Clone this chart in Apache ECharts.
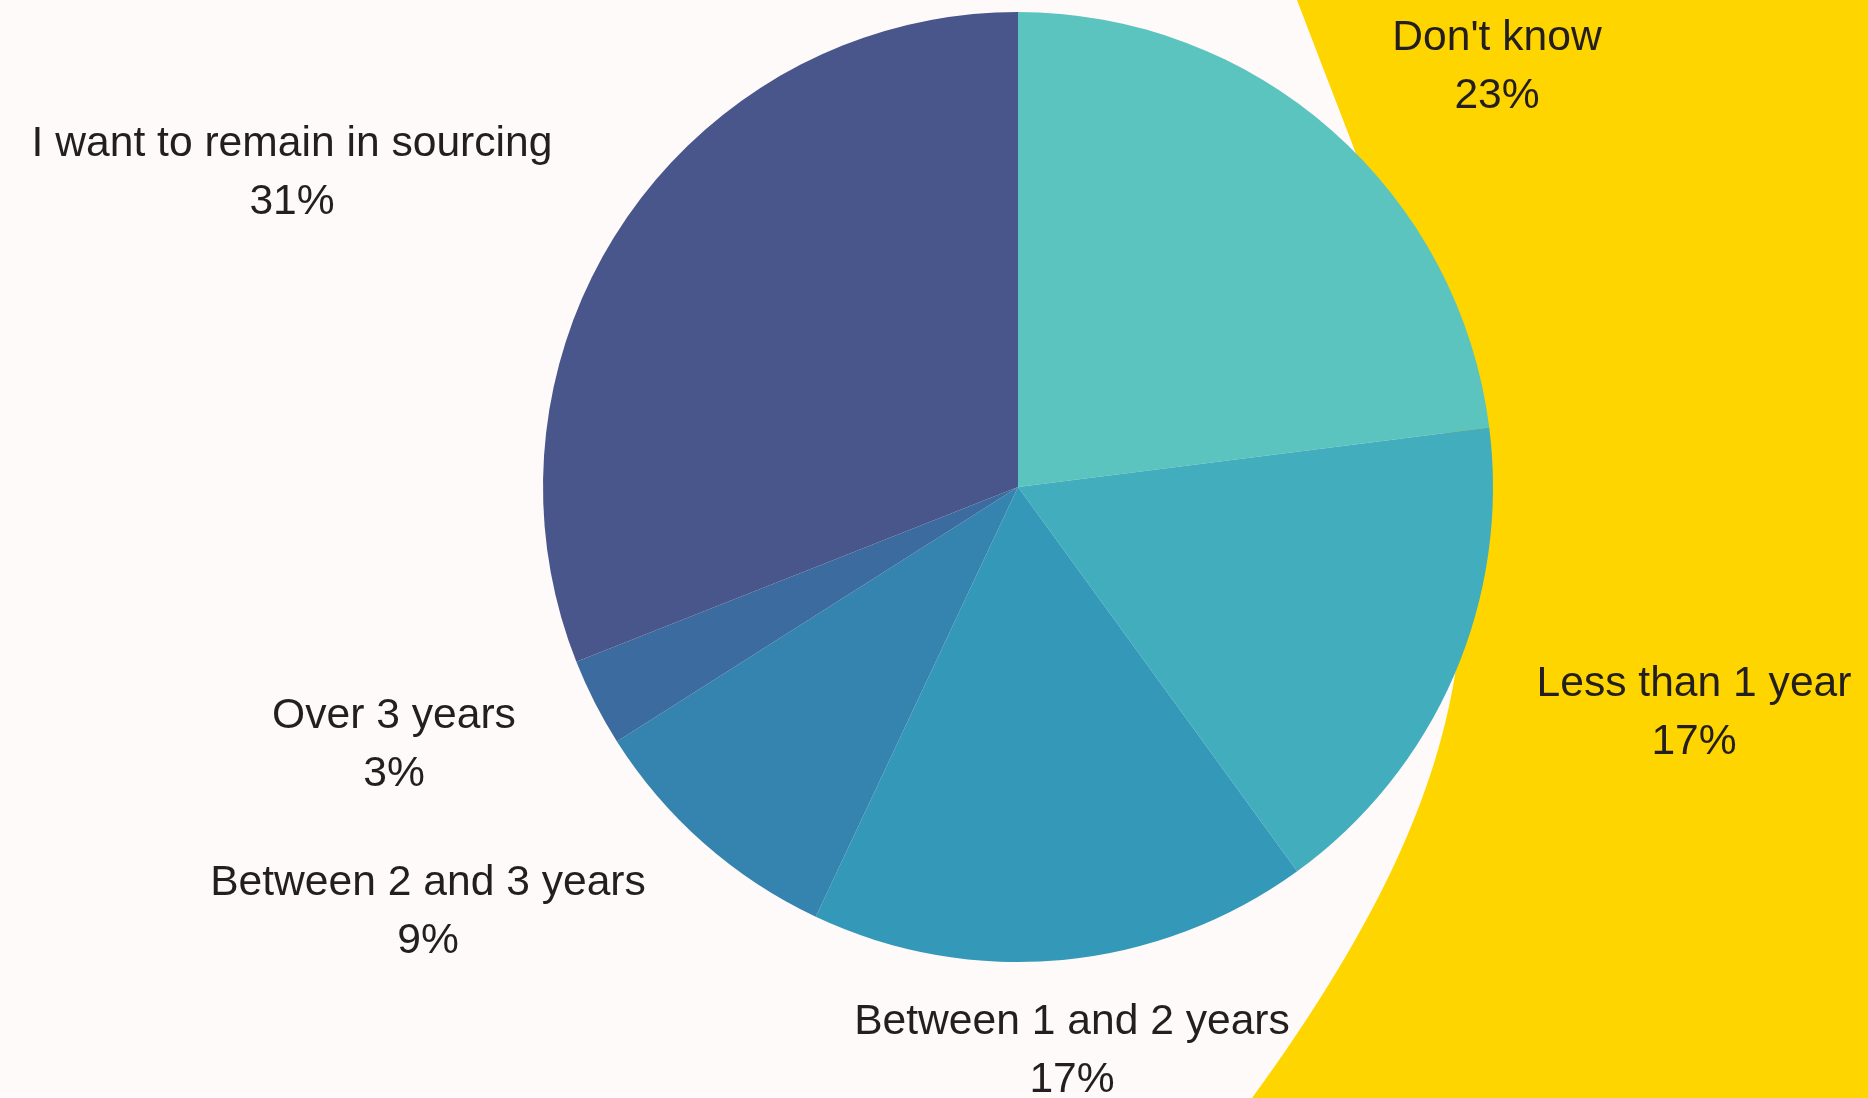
<!DOCTYPE html>
<html>
<head>
<meta charset="utf-8">
<script src="https://cdn.jsdelivr.net/npm/echarts@6/dist/echarts.min.js"></script>
<style>
html,body{margin:0;padding:0;background:#FFFAFA;}
#chart{width:1868px;height:1098px;}
</style>
</head>
<body>
<div id="chart"></div>
<script>
var categories = ["Don't know", "Less than 1 year", "Between 1 and 2 years", "Between 2 and 3 years", "Over 3 years", "I want to remain in sourcing"];
var values = [23, 17, 17, 9, 3, 31];
var colors = ["#5CC4BF", "#42AEBD", "#3499B8", "#3583AF", "#3C6B9F", "#49568B"];
var labelPos = [[1497, 67], [1694, 713], [1072, 1051], [428, 912], [394, 745], [292, 173]];

// decorative yellow backdrop on the right (cubic curve edge)
function backdropPoints() {
  var p0 = [1297, 0], c1 = [1468, 450], c2 = [1580, 648], p3 = [1252, 1098];
  var pts = [];
  for (var i = 0; i <= 80; i++) {
    var t = i / 80, u = 1 - t;
    pts.push([
      u*u*u*p0[0] + 3*u*u*t*c1[0] + 3*u*t*t*c2[0] + t*t*t*p3[0],
      u*u*u*p0[1] + 3*u*u*t*c1[1] + 3*u*t*t*c2[1] + t*t*t*p3[1]
    ]);
  }
  pts.push([1868, 1098]);
  pts.push([1868, 0]);
  return pts;
}

var chart = echarts.init(document.getElementById('chart'));
chart.setOption({
  backgroundColor: '#FFFAFA',
  animation: false,
  graphic: [{
    type: 'polygon',
    z: -10,
    silent: true,
    shape: { points: backdropPoints() },
    style: { fill: '#FFD500' }
  }],
  series: [{
    type: 'pie',
    z: 2,
    center: [1018, 487],
    radius: 475,
    startAngle: 90,
    clockwise: true,
    avoidLabelOverlap: false,
    data: categories.map(function (c, i) {
      return { name: c, value: values[i], itemStyle: { color: colors[i] } };
    }),
    label: {
      show: true,
      position: 'outside',
      formatter: '{b}\n{c}%',
      fontFamily: 'Liberation Sans',
      fontSize: 42.6,
      lineHeight: 58.5,
      color: '#231F20',
      align: 'center'
    },
    labelLine: { show: false },
    labelLayout: function (p) {
      var pos = labelPos[p.dataIndex];
      return { x: pos[0], y: pos[1], align: 'center', verticalAlign: 'middle' };
    },
    emphasis: { disabled: true }
  }]
});
</script>
</body>
</html>
